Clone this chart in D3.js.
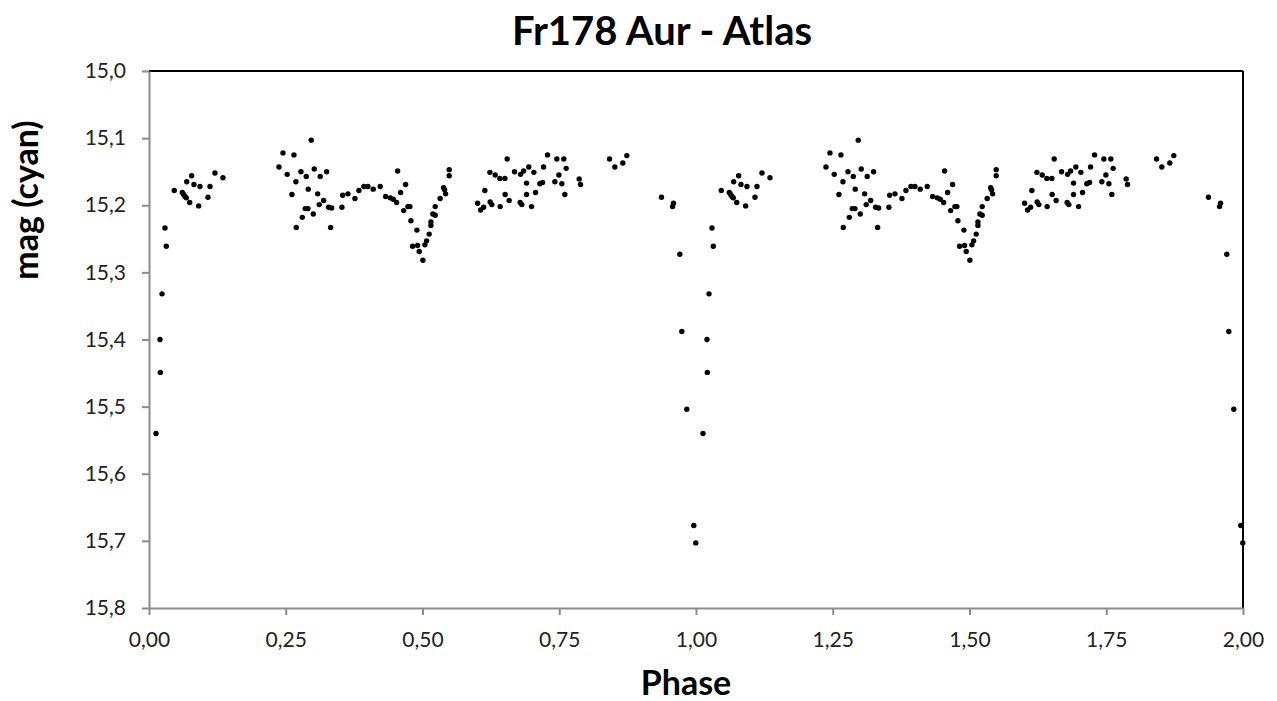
<!DOCTYPE html>
<meta charset="utf-8">
<style>
    body { margin: 0; background: #fff; }
    text { font-family: Lato, "Open Sans", sans-serif; }
    .tick text { font-size: 21px; fill: #222; }
    .axis-g path, .axis-g line { stroke: #8c8c8c; stroke-width: 2px; }
    .frame { stroke: #000; stroke-width: 2px; }
    .title { font-size: 40px; font-weight: bold; }
    .axis-title { font-size: 34px; font-weight: bold; }
</style>
<body>
<script src="https://cdn.jsdelivr.net/npm/d3@7"></script>
<script>

// phase-folded light curve (one cycle, drawn again at phase + 1)
var phase = [0.0128, 0.0201, 0.0207, 0.0238, 0.0292, 0.0316, 0.0462, 0.0609, 0.0634, 0.0658,
    0.0682, 0.0689, 0.0744, 0.0780, 0.0822, 0.0908, 0.0932, 0.1078, 0.1115, 0.1206,
    0.1352, 0.2376, 0.2449, 0.2527, 0.2613, 0.2650, 0.2686, 0.2692, 0.2778, 0.2802,
    0.2856, 0.2875, 0.2906, 0.2911, 0.2966, 0.3003, 0.3021, 0.3083, 0.3112, 0.3130,
    0.3193, 0.3247, 0.3284, 0.3321, 0.3339, 0.3527, 0.3540, 0.3637, 0.3765, 0.3838,
    0.3929, 0.4002, 0.4099, 0.4227, 0.4326, 0.4410, 0.4465, 0.4527, 0.4545, 0.4600,
    0.4655, 0.4691, 0.4733, 0.4770, 0.4788, 0.4819, 0.4898, 0.4910, 0.4940, 0.5007,
    0.5044, 0.5075, 0.5122, 0.5154, 0.5154, 0.5190, 0.5232, 0.5232, 0.5323, 0.5386,
    0.5404, 0.5422, 0.5488, 0.5488, 0.6007, 0.6062, 0.6117, 0.6140, 0.6232, 0.6237,
    0.6268, 0.6329, 0.6414, 0.6420, 0.6506, 0.6511, 0.6548, 0.6584, 0.6683, 0.6785,
    0.6793, 0.6816, 0.6848, 0.6902, 0.6902, 0.6944, 0.6994, 0.7036, 0.7067, 0.7145,
    0.7195, 0.7213, 0.7286, 0.7420, 0.7456, 0.7493, 0.7548, 0.7584, 0.7602, 0.7626,
    0.7864, 0.7889, 0.8419, 0.8516, 0.8662, 0.8735, 0.9369, 0.9571, 0.9589, 0.9704,
    0.9741, 0.9832, 0.9960, 0.9996];

var mag = [15.540, 15.400, 15.449, 15.332, 15.234, 15.261, 15.178, 15.181, 15.184, 15.187,
    15.189, 15.165, 15.196, 15.156, 15.169, 15.201, 15.172, 15.188, 15.172, 15.152,
    15.159, 15.143, 15.122, 15.154, 15.184, 15.125, 15.165, 15.233, 15.150, 15.218,
    15.205, 15.157, 15.205, 15.176, 15.103, 15.213, 15.146, 15.183, 15.199, 15.157,
    15.193, 15.150, 15.203, 15.233, 15.204, 15.203, 15.185, 15.183, 15.190, 15.178,
    15.172, 15.172, 15.176, 15.172, 15.187, 15.189, 15.191, 15.196, 15.149, 15.181,
    15.208, 15.169, 15.202, 15.202, 15.223, 15.261, 15.237, 15.260, 15.269, 15.282,
    15.259, 15.253, 15.243, 15.230, 15.225, 15.213, 15.215, 15.202, 15.190, 15.174,
    15.177, 15.183, 15.147, 15.156, 15.197, 15.207, 15.203, 15.178, 15.151, 15.195,
    15.199, 15.155, 15.160, 15.202, 15.160, 15.184, 15.131, 15.193, 15.150, 15.196,
    15.154, 15.199, 15.149, 15.167, 15.184, 15.143, 15.202, 15.151, 15.181, 15.168,
    15.166, 15.143, 15.125, 15.165, 15.131, 15.155, 15.168, 15.131, 15.184, 15.145,
    15.161, 15.169, 15.131, 15.143, 15.137, 15.126, 15.188, 15.202, 15.197, 15.273,
    15.388, 15.504, 15.677, 15.703];

var cycles = [0, 1];
var xTicks = [0, 0.25, 0.5, 0.75, 1, 1.25, 1.5, 1.75, 2];
var yTicks = [15.0, 15.1, 15.2, 15.3, 15.4, 15.5, 15.6, 15.7, 15.8];

var W = 1277, H = 701;
var margin = {top: 71, right: 34, bottom: 93, left: 149};

var x = d3.scaleLinear().domain([0, 2]).range([margin.left, W - margin.right]);
var y = d3.scaleLinear().domain([15.0, 15.8]).range([margin.top, H - margin.bottom]);

var fmt = function (d, n) { return d.toFixed(n).replace(".", ","); };

var svg = d3.select("body").append("svg")
    .attr("width", W)
    .attr("height", H);

// top and right border (black)
svg.append("line").attr("class", "frame")
    .attr("x1", x(0)).attr("x2", x(2)).attr("y1", y(15.0)).attr("y2", y(15.0));
svg.append("line").attr("class", "frame")
    .attr("x1", x(2)).attr("x2", x(2)).attr("y1", y(15.0)).attr("y2", y(15.8));

// x axis
svg.append("g")
    .attr("class", "axis-g")
    .attr("transform", "translate(0," + y(15.8) + ")")
    .call(d3.axisBottom(x).tickValues(xTicks).tickSize(7).tickSizeOuter(0).tickPadding(17)
        .tickFormat(function (d) { return fmt(d, 2); }));

// y axis
svg.append("g")
    .attr("class", "axis-g")
    .attr("transform", "translate(" + x(0) + ",0)")
    .call(d3.axisLeft(y).tickValues(yTicks).tickSize(7).tickSizeOuter(0).tickPadding(16)
        .tickFormat(function (d) { return fmt(d, 1); }));

svg.selectAll(".axis-g").attr("font-family", null).attr("font-size", null);

// points
var pts = [];
cycles.forEach(function (c) {
    phase.forEach(function (p, i) { pts.push({p: p + c, m: mag[i]}); });
});

svg.append("g").selectAll("circle")
    .data(pts)
    .enter().append("circle")
    .attr("cx", function (d) { return x(d.p); })
    .attr("cy", function (d) { return y(d.m); })
    .attr("r", 2.7)
    .attr("fill", "#000");

// titles
svg.append("text").attr("class", "title")
    .attr("x", 662).attr("y", 45)
    .attr("text-anchor", "middle")
    .text("Fr178 Aur - Atlas");

svg.append("text").attr("class", "axis-title")
    .attr("x", 686).attr("y", 695)
    .attr("text-anchor", "middle")
    .text("Phase");

svg.append("text").attr("class", "axis-title")
    .attr("transform", "translate(38,200) rotate(-90)")
    .attr("text-anchor", "middle")
    .text("mag (cyan)");

</script>
</body>
